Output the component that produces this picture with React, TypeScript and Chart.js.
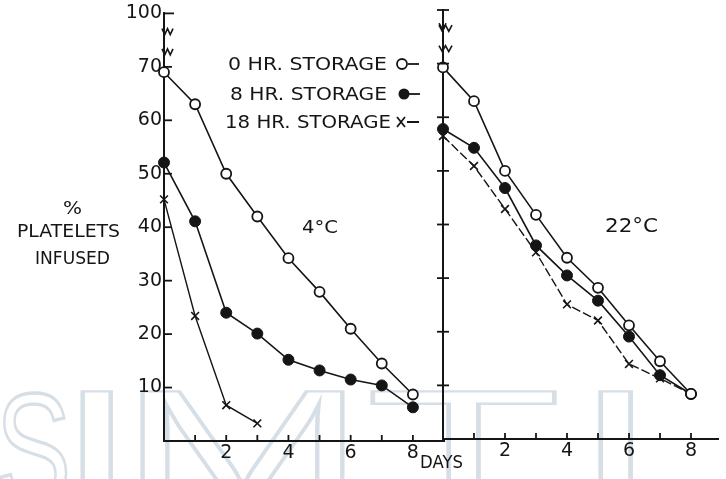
import React, { useEffect, useRef } from "react";
import { Chart, registerables } from "chart.js";

Chart.register(...registerables);

// ---------- data ----------
const days = [0, 1, 2, 3, 4, 5, 6, 7, 8];
const days18Cold = [0, 1, 2, 3];

// 4 °C panel
const cold0hr = [69, 63, 50, 42, 34.2, 27.9, 21, 14.5, 8.7];
const cold8hr = [52.1, 41.1, 24, 20.1, 15.2, 13.2, 11.5, 10.4, 6.3];
const cold18hr = [45.2, 23.4, 6.7, 3.3];

// 22 °C panel
const warm0hr = [69.3, 63, 50, 41.8, 33.8, 28.2, 21.2, 14.5, 8.4];
const warm8hr = [57.8, 54.3, 46.8, 36.1, 30.5, 25.8, 19.1, 11.9, 8.4];
const warm18hr = [56.5, 50.9, 42.9, 34.8, 25.1, 22.1, 14, 11.3, 8.4];

// axis: linear 0..80, the top tick (80) is labelled "100" (axis break)
const yTickValues = [10, 20, 30, 40, 50, 60, 70, 80];
const yTickLabels: Record<number, string> = { 10: "10", 20: "20", 30: "30", 40: "40", 50: "50", 60: "60", 70: "70", 80: "100" };
const xTickValues = [1, 2, 3, 4, 5, 6, 7, 8];
const xLabelled = [2, 4, 6, 8];
const breakValues = [76.6, 72.8];

const legendRows = ["0 HR. STORAGE", "8 HR. STORAGE", "18 HR. STORAGE"];

const INK = "#151515";
const FONT = "DejaVu Sans";

function pts(xs: number[], ys: number[]) {
  return xs.map((x, i) => ({ x, y: ys[i] }));
}

function makeDatasets(d0: number[], d8: number[], x18: number[], d18: number[], dash18: number[]) {
  return [
    {
      label: legendRows[0],
      data: pts(days, d0),
      borderColor: INK,
      borderWidth: 1.6,
      pointStyle: "circle",
      pointRadius: 5,
      pointBackgroundColor: "#ffffff",
      pointBorderColor: INK,
      pointBorderWidth: 1.8,
      tension: 0,
      clip: false,
    },
    {
      label: legendRows[1],
      data: pts(days, d8),
      borderColor: INK,
      borderWidth: 1.6,
      pointStyle: "circle",
      pointRadius: 5.5,
      pointBackgroundColor: INK,
      pointBorderColor: INK,
      pointBorderWidth: 1,
      tension: 0,
      clip: false,
    },
    {
      label: legendRows[2],
      data: pts(x18, d18),
      borderColor: INK,
      borderWidth: 1.4,
      borderDash: dash18,
      pointStyle: "crossRot",
      pointRadius: 5.5,
      pointBorderColor: INK,
      pointBorderWidth: 1.6,
      tension: 0,
      clip: false,
    },
  ];
}

function fitText(ctx: CanvasRenderingContext2D, text: string, x0: number, x1: number, yc: number, size: number) {
  ctx.save();
  ctx.font = `${size}px "${FONT}"`;
  ctx.textAlign = "left";
  ctx.textBaseline = "alphabetic";
  const w = ctx.measureText(text).width;
  const sx = (x1 - x0) / w;
  ctx.translate(x0, yc + size * 0.365);
  ctx.scale(sx, 1);
  ctx.fillStyle = INK;
  ctx.fillText(text, 0, 0);
  ctx.restore();
}

function strokeLetter(ctx: CanvasRenderingContext2D, ch: string, x0: number, x1: number, top: number, cap: number) {
  ctx.save();
  const size = 100;
  ctx.font = `${size}px "Liberation Sans"`;
  ctx.textAlign = "left";
  ctx.textBaseline = "alphabetic";
  const m = ctx.measureText(ch);
  const w = m.actualBoundingBoxRight + m.actualBoundingBoxLeft;
  const h = m.actualBoundingBoxAscent;
  const sx = (x1 - x0) / w;
  const sy = cap / h;
  ctx.translate(x0, top);
  ctx.scale(sx, sy);
  ctx.lineWidth = 2.4 / Math.min(sx, sy);
  ctx.strokeStyle = "#d6dee6";
  ctx.strokeText(ch, m.actualBoundingBoxLeft, h);
  ctx.restore();
}

function zigzag(ctx: CanvasRenderingContext2D, x: number, y: number, left: number, right: number) {
  ctx.beginPath();
  const n = 4;
  const w = right + left;
  for (let i = 0; i <= n; i++) {
    const px = x - left + (w * i) / n;
    const py = y + (i % 2 === 0 ? -3 : 3);
    if (i === 0) ctx.moveTo(px, py);
    else ctx.lineTo(px, py);
  }
  ctx.stroke();
}

function axisDecor(kind: "left" | "right") {
  return {
    id: "axisDecor" + kind,
    afterDraw(chart: any) {
      const ctx: CanvasRenderingContext2D = chart.ctx;
      const xs = chart.scales.x;
      const ys = chart.scales.y;
      const a = chart.chartArea;
      ctx.save();
      ctx.strokeStyle = INK;
      ctx.lineWidth = 1.8;
      // y ticks
      for (const v of yTickValues) {
        const py = ys.getPixelForValue(v);
        ctx.beginPath();
        if (kind === "left") {
          ctx.moveTo(a.left, py);
          ctx.lineTo(a.left + (v === 80 ? 10 : 8), py);
        } else {
          ctx.moveTo(a.left - 6, py);
          ctx.lineTo(a.left + 6, py);
        }
        ctx.stroke();
      }
      // x ticks (upward)
      for (const v of xTickValues) {
        const px = xs.getPixelForValue(v);
        ctx.beginPath();
        ctx.moveTo(px, a.bottom);
        ctx.lineTo(px, a.bottom - 6);
        ctx.stroke();
      }
      // axis break marks
      ctx.lineWidth = 1.6;
      for (const v of breakValues) {
        const py = ys.getPixelForValue(v);
        zigzag(ctx, a.left, py, kind === "left" ? 2 : 4, 9);
      }
      if (kind === "right") {
        const py = ys.getPixelForValue(breakValues[0]);
        ctx.beginPath();
        ctx.moveTo(a.left - 4, py - 5);
        ctx.lineTo(a.left, py + 2);
        ctx.lineTo(a.left + 3, py - 5);
        ctx.stroke();
      }
      ctx.restore();
    },
  };
}

const annotations = {
  id: "annotations",
  afterDraw(chart: any) {
    const ctx: CanvasRenderingContext2D = chart.ctx;
    // axis title
    fitText(ctx, "%", 63, 82, 208, 17);
    fitText(ctx, "PLATELETS", 17, 120, 230, 18);
    fitText(ctx, "INFUSED", 35, 110, 257, 18);
    fitText(ctx, "4°C", 302, 338, 226, 18);
    fitText(ctx, "22°C", 605, 658, 225, 19);
    fitText(ctx, "DAYS", 420, 463, 462, 17);
    // legend
    const rowsY = [64, 94, 122];
    const rowsX = [[228, 387], [230, 387], [225, 391]];
    legendRows.forEach((t, i) => fitText(ctx, t, rowsX[i][0], rowsX[i][1], rowsY[i], 17));
    ctx.save();
    ctx.strokeStyle = INK;
    ctx.fillStyle = INK;
    ctx.lineWidth = 1.8;
    // open circle
    ctx.beginPath();
    ctx.arc(402, rowsY[0], 5, 0, Math.PI * 2);
    ctx.stroke();
    ctx.beginPath();
    ctx.moveTo(408, rowsY[0]);
    ctx.lineTo(419, rowsY[0]);
    ctx.stroke();
    // filled circle
    ctx.beginPath();
    ctx.arc(404, rowsY[1], 5.5, 0, Math.PI * 2);
    ctx.fill();
    ctx.beginPath();
    ctx.moveTo(409, rowsY[1]);
    ctx.lineTo(420, rowsY[1]);
    ctx.stroke();
    // cross
    ctx.beginPath();
    ctx.moveTo(397, rowsY[2] - 5);
    ctx.lineTo(405, rowsY[2] + 5);
    ctx.moveTo(405, rowsY[2] - 5);
    ctx.lineTo(397, rowsY[2] + 5);
    ctx.moveTo(407, rowsY[2]);
    ctx.lineTo(419, rowsY[2]);
    ctx.stroke();
    ctx.restore();
  },
};

const watermark = {
  id: "watermark",
  beforeDraw(chart: any) {
    const ctx: CanvasRenderingContext2D = chart.ctx;
    const top = 391;
    const cap = 112;
    strokeLetter(ctx, "S", 0, 67, top, cap);
    strokeLetter(ctx, "I", 82, 112, top, cap);
    strokeLetter(ctx, "M", 142, 345, top, cap);
    strokeLetter(ctx, "T", 372, 555, top, cap);
    strokeLetter(ctx, "I", 600, 632, top, cap);
  },
};

const tickFont = { family: FONT, size: 19 };

function baseOptions(opts: {
  padLeft: number; padRight: number; padTop: number; yWidth: number; xHeight: number; xMax: number; showY: boolean;
}) {
  return {
    animation: false,
    responsive: false,
    devicePixelRatio: 1,
    layout: { padding: { left: opts.padLeft, right: opts.padRight, top: opts.padTop, bottom: 0 } },
    plugins: { legend: { display: false }, tooltip: { enabled: false }, title: { display: false } },
    scales: {
      x: {
        type: "linear",
        min: 0,
        max: opts.xMax,
        afterFit: (s: any) => { s.height = opts.xHeight; },
        afterBuildTicks: (s: any) => { s.ticks = xTickValues.map((v) => ({ value: v })); },
        ticks: {
          autoSkip: false,
          maxRotation: 0,
          padding: 1,
          color: INK,
          font: tickFont,
          callback: (v: number) => (xLabelled.includes(v) ? String(v) : ""),
        },
        grid: { drawOnChartArea: false, drawTicks: false },
        border: { display: true, width: 2, color: INK },
      },
      y: {
        type: "linear",
        min: 0,
        max: 80,
        afterFit: (s: any) => { s.width = opts.yWidth; },
        afterBuildTicks: (s: any) => { s.ticks = yTickValues.map((v) => ({ value: v })); },
        ticks: {
          display: opts.showY,
          padding: 2,
          color: INK,
          font: tickFont,
          callback: (v: number) => yTickLabels[v] ?? "",
        },
        grid: { drawOnChartArea: false, drawTicks: false },
        border: { display: true, width: 2, color: INK },
      },
    },
  };
}

export default function App() {
  const leftRef = useRef<HTMLCanvasElement>(null);
  const rightRef = useRef<HTMLCanvasElement>(null);

  useEffect(() => {
    const left = new Chart(leftRef.current as HTMLCanvasElement, {
      type: "line",
      data: { datasets: makeDatasets(cold0hr, cold8hr, days18Cold, cold18hr, []) as any },
      options: baseOptions({ padLeft: 0, padRight: 726 - 444, padTop: 13, yWidth: 164, xHeight: 479 - 441, xMax: 9, showY: true }) as any,
      plugins: [watermark, axisDecor("left"), annotations],
    });
    const right = new Chart(rightRef.current as HTMLCanvasElement, {
      type: "line",
      data: { datasets: makeDatasets(warm0hr, warm8hr, days, warm18hr, [9, 3]) as any },
      options: baseOptions({ padLeft: 0, padRight: 0, padTop: 10, yWidth: 443, xHeight: 479 - 439, xMax: 8.9, showY: false }) as any,
      plugins: [axisDecor("right")],
    });
    return () => {
      left.destroy();
      right.destroy();
    };
  }, []);

  const cs: React.CSSProperties = { position: "absolute", left: 0, top: 0, width: 726, height: 479 };
  return (
    <div style={{ position: "fixed", left: 0, top: 0, width: 726, height: 479, background: "#ffffff" }}>
      <canvas ref={leftRef} width={726} height={479} style={cs} />
      <canvas ref={rightRef} width={726} height={479} style={cs} />
    </div>
  );
}
